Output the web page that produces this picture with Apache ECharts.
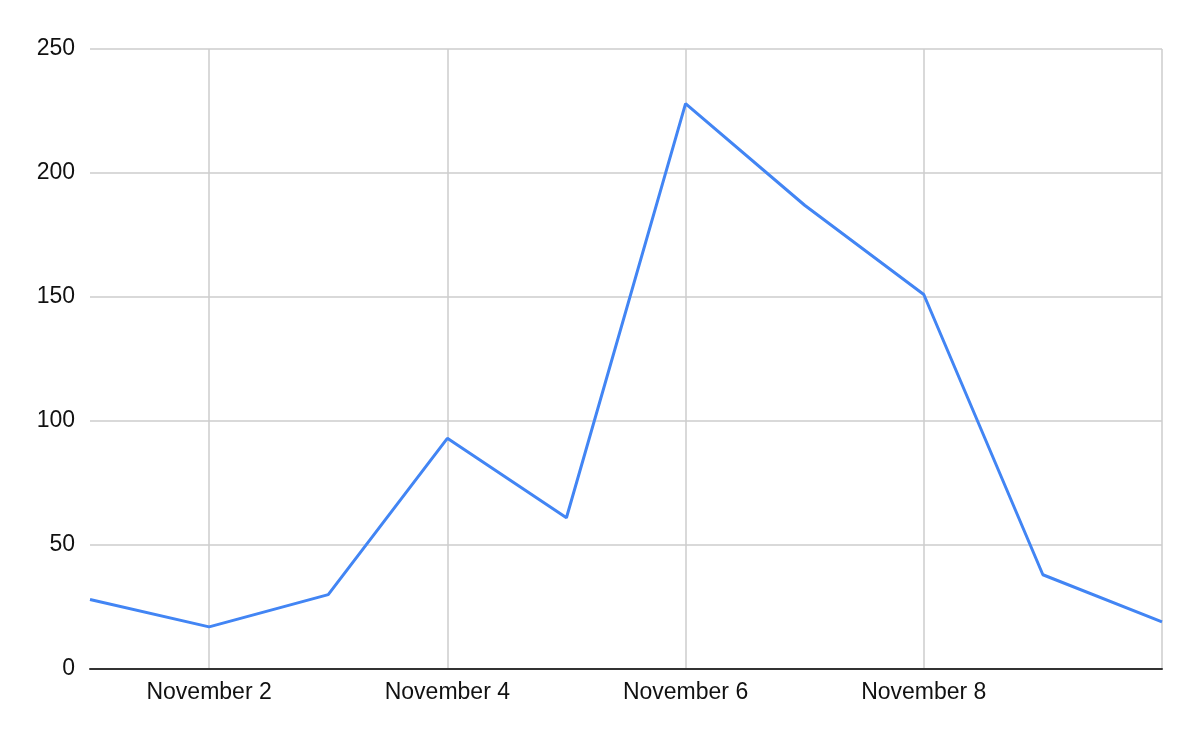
<!DOCTYPE html>
<html>
<head>
<meta charset="utf-8">
<script src="https://cdn.jsdelivr.net/npm/echarts@6/dist/echarts.min.js"></script>
<style>html,body{margin:0;padding:0;background:#fff}#c{width:1200px;height:742px}</style>
</head>
<body>
<div id="c"></div>
<script>
const categories = ["November 1","November 2","November 3","November 4","November 5","November 6","November 7","November 8","November 9","November 10"];
const values = [28, 17, 30, 93, 61, 228, 187, 151, 38, 19];
const yTicks = [0, 50, 100, 150, 200, 250];

const chart = echarts.init(document.getElementById('c'));
chart.setOption({
  animation: false,
  backgroundColor: '#fff',
  grid: { left: 90, right: 38, top: 49, bottom: 73, containLabel: false },
  xAxis: {
    type: 'category',
    data: categories,
    boundaryGap: false,
    axisLine: { show: true, lineStyle: { color: '#333', width: 2 } },
    axisTick: { show: false },
    axisLabel: {
      interval: (i) => i % 2 === 1 && i < categories.length - 1,
      color: '#111', fontSize: 23, fontFamily: 'Liberation Sans, Arial, sans-serif', margin: 12
    },
    splitLine: { show: true, interval: (i) => i % 2 === 1, lineStyle: { color: '#ccc', width: 1.5 } }
  },
  yAxis: {
    type: 'value',
    min: yTicks[0], max: yTicks[yTicks.length - 1], interval: 50,
    axisLine: { show: false },
    axisTick: { show: false },
    axisLabel: { color: '#111', fontSize: 23, fontFamily: 'Liberation Sans, Arial, sans-serif', margin: 15, padding: [2, 0, 0, 0] },
    splitLine: { lineStyle: { color: '#ccc', width: 1.5 } }
  },
  series: [{
    type: 'line',
    data: values,
    showSymbol: false,
    symbol: 'none',
    lineStyle: { color: '#4285F4', width: 3 },
    itemStyle: { color: '#4285F4' }
  }]
});
</script>
</body>
</html>
